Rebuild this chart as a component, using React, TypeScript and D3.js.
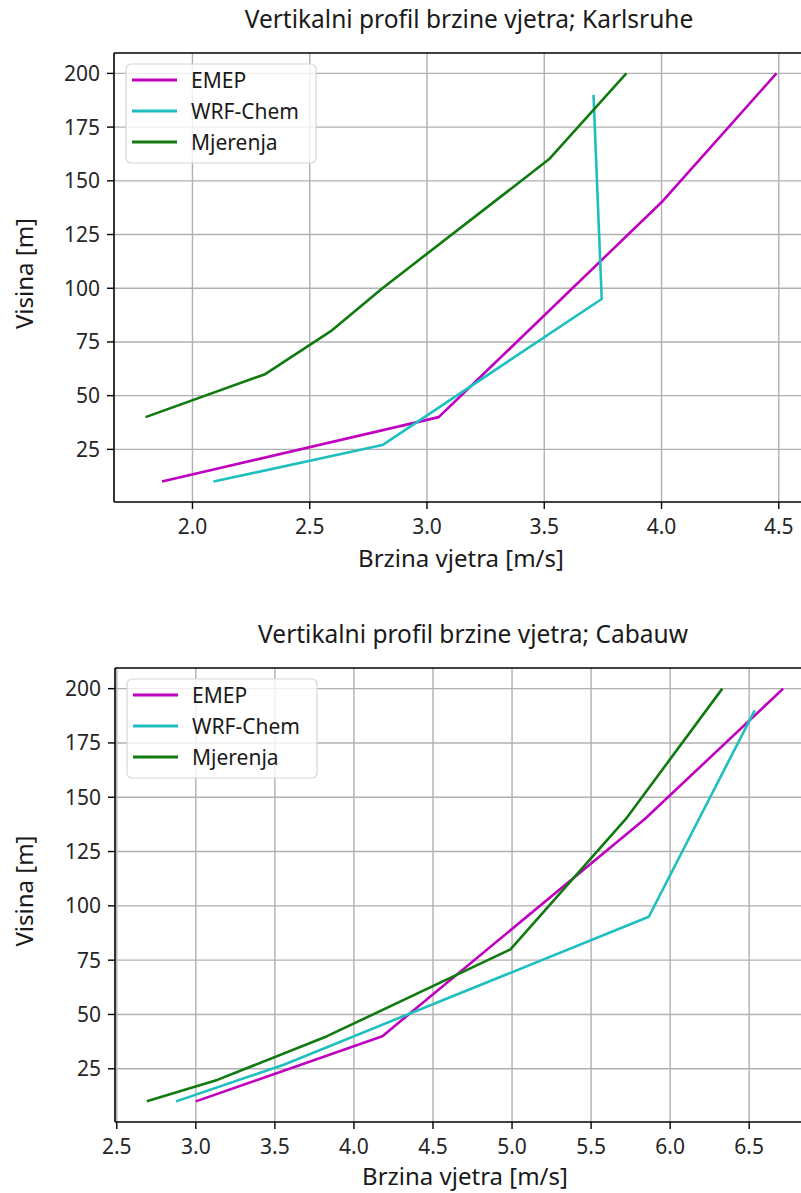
import React from "react";
import * as d3 from "d3";

// ---------- data ----------
const seriesNames = ["EMEP", "WRF-Chem", "Mjerenja"];
const seriesColors = ["#bf00bf", "#1fbfbf", "#107a10"];

// Karlsruhe
const kaEmepH = [10, 40, 140, 200];
const kaEmepV = [1.87, 3.05, 4.0, 4.49];
const kaWrfH = [10, 27, 95, 190];
const kaWrfV = [2.09, 2.81, 3.745, 3.71];
const kaMjerH = [40, 60, 80, 100, 160, 200];
const kaMjerV = [1.8, 2.31, 2.59, 2.81, 3.52, 3.85];
const kaXTicks = [2.0, 2.5, 3.0, 3.5, 4.0, 4.5];

// Cabauw
const caEmepH = [10, 40, 140, 200];
const caEmepV = [3.0, 4.18, 5.84, 6.715];
const caWrfH = [10, 27, 95, 190];
const caWrfV = [2.875, 3.56, 5.865, 6.535];
const caMjerH = [10, 20, 40, 80, 140, 200];
const caMjerV = [2.69, 3.14, 3.83, 4.99, 5.72, 6.33];
const caXTicks = [2.5, 3.0, 3.5, 4.0, 4.5, 5.0, 5.5, 6.0, 6.5];

const yTicks = [25, 50, 75, 100, 125, 150, 175, 200];

const FONT = "'Noto Sans', 'Open Sans', sans-serif";

type Series = { h: number[]; v: number[] };

function Panel(props: {
  title: string;
  series: Series[];
  xTicks: number[];
  left: number;
  top: number;
  width: number;
  height: number;
  id: string;
  xLabelOffset: number;
}) {
  const { title, series, xTicks, left, top, width, height, id, xLabelOffset } = props;
  const allV = series.flatMap((s) => s.v);
  const allH = series.flatMap((s) => s.h);
  const vMin = d3.min(allV)!, vMax = d3.max(allV)!;
  const hMin = d3.min(allH)!, hMax = d3.max(allH)!;
  const padV = (vMax - vMin) * 0.05;
  const padH = (hMax - hMin) * 0.05;
  const x = d3.scaleLinear().domain([vMin - padV, vMax + padV]).range([left, left + width]);
  const y = d3.scaleLinear().domain([hMin - padH, hMax + padH]).range([top + height, top]);
  const line = d3
    .line<[number, number]>()
    .x((d) => x(d[0]))
    .y((d) => y(d[1]));
  const bottom = top + height;
  const right = left + width;
  const cx = (left + right) / 2;
  const cy = (top + bottom) / 2;
  return (
    <g>
      <defs>
        <clipPath id={id}>
          <rect x={left} y={top} width={width} height={height} />
        </clipPath>
      </defs>
      {/* grid */}
      {xTicks.map((t) => (
        <line key={"gx" + t} x1={x(t)} x2={x(t)} y1={top} y2={bottom} stroke="#b0b0b0" strokeWidth={1.4} />
      ))}
      {yTicks.map((t) => (
        <line key={"gy" + t} x1={left} x2={right} y1={y(t)} y2={y(t)} stroke="#b0b0b0" strokeWidth={1.4} />
      ))}
      {/* series */}
      <g clipPath={`url(#${id})`}>
        {series.map((s, i) => (
          <path
            key={i}
            d={line(s.v.map((v, j) => [v, s.h[j]]))!}
            fill="none"
            stroke={seriesColors[i]}
            strokeWidth={2.6}
            strokeLinejoin="round"
          />
        ))}
      </g>
      {/* spines */}
      <line x1={left} x2={right} y1={top} y2={top} stroke="#000" strokeWidth={1.6} />
      <line x1={left} x2={right} y1={bottom} y2={bottom} stroke="#000" strokeWidth={1.6} />
      <line x1={left} x2={left} y1={top} y2={bottom} stroke="#000" strokeWidth={1.6} />
      <line x1={right} x2={right} y1={top} y2={bottom} stroke="#000" strokeWidth={1.6} />
      {/* ticks */}
      {xTicks.map((t) => (
        <g key={"xt" + t}>
          <line x1={x(t)} x2={x(t)} y1={bottom} y2={bottom + 7} stroke="#000" strokeWidth={1.4} />
          <text x={x(t)} y={bottom + 32} textAnchor="middle" fontSize={21} fill="#262626" fontFamily={FONT}>
            {t.toFixed(1)}
          </text>
        </g>
      ))}
      {yTicks.map((t) => (
        <g key={"yt" + t}>
          <line x1={left - 7} x2={left} y1={y(t)} y2={y(t)} stroke="#000" strokeWidth={1.4} />
          <text x={left - 14} y={y(t) + 7.5} textAnchor="end" fontSize={21} fill="#262626" fontFamily={FONT}>
            {t}
          </text>
        </g>
      ))}
      {/* labels */}
      <text x={cx} y={bottom + xLabelOffset} textAnchor="middle" fontSize={24} fill="#1a1a1a" fontFamily={FONT}>
        Brzina vjetra [m/s]
      </text>
      <text
        transform={`translate(${33},${cy - 4}) rotate(-90)`}
        textAnchor="middle"
        fontSize={24}
        fill="#1a1a1a"
        fontFamily={FONT}
      >
        Visina [m]
      </text>
      <text x={cx + 8} y={top - 25} textAnchor="middle" fontSize={24.5} fill="#1a1a1a" fontFamily={FONT}>
        {title}
      </text>
      {/* legend */}
      <g>
        <rect
          x={left + 12}
          y={top + 11}
          width={190}
          height={99}
          rx={5}
          fill="#ffffff"
          fillOpacity={0.8}
          stroke="#d6d6d6"
          strokeWidth={1.2}
        />
        {seriesNames.map((n, i) => {
          const ly = top + 27 + i * 31;
          return (
            <g key={n}>
              <line x1={left + 18} x2={left + 63} y1={ly} y2={ly} stroke={seriesColors[i]} strokeWidth={2.8} />
              <text x={left + 77} y={ly + 7.5} fontSize={21} fill="#1a1a1a" fontFamily={FONT}>
                {n}
              </text>
            </g>
          );
        })}
      </g>
    </g>
  );
}

export default function App() {
  const ka: Series[] = [
    { h: kaEmepH, v: kaEmepV },
    { h: kaWrfH, v: kaWrfV },
    { h: kaMjerH, v: kaMjerV },
  ];
  const ca: Series[] = [
    { h: caEmepH, v: caEmepV },
    { h: caWrfH, v: caWrfV },
    { h: caMjerH, v: caMjerV },
  ];
  return (
    <svg
      width={801}
      height={1193}
      style={{ position: "absolute", left: 0, top: 0, background: "#fff" }}
    >
      <rect x={0} y={0} width={801} height={1193} fill="#fff" />
      <Panel title="Vertikalni profil brzine vjetra; Karlsruhe" series={ka} xTicks={kaXTicks} left={114} top={53} width={694} height={449} id="clipA" xLabelOffset={65} />
      <Panel title="Vertikalni profil brzine vjetra; Cabauw" series={ca} xTicks={caXTicks} left={115} top={668} width={700} height={454} id="clipB" xLabelOffset={63} />
    </svg>
  );
}
